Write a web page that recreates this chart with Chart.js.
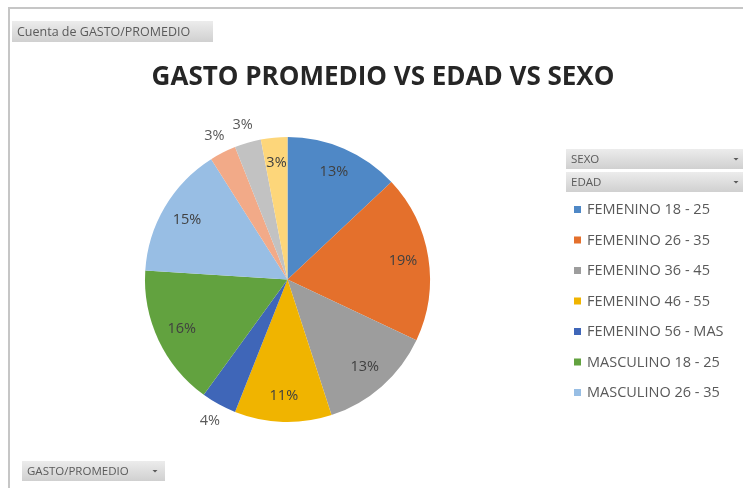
<!DOCTYPE html>
<html lang="es">
<head>
<meta charset="UTF-8">
<title>Gasto promedio vs edad vs sexo</title>
<script src="https://cdn.jsdelivr.net/npm/chart.js"></script>
<style>
    body { margin: 0; background: #fff; }
    #wrap { position: relative; width: 743px; height: 488px; }
</style>
</head>
<body>
<div id="wrap">
    <canvas id="gastoChart" width="743" height="488"></canvas>
</div>
<script>
// porcentaje del gasto promedio por sexo y rango de edad
const categorias = [
    'FEMENINO 18 - 25', 'FEMENINO 26 - 35', 'FEMENINO 36 - 45', 'FEMENINO 46 - 55',
    'FEMENINO 56 - MAS', 'MASCULINO 18 - 25', 'MASCULINO 26 - 35',
    'MASCULINO 36 - 45', 'MASCULINO 46 - 55', 'MASCULINO 56 - MAS'
];
const porcentajes = [13, 19, 13, 11, 4, 16, 15, 3, 3, 3];
const colores = [
    '#4f88c6', '#e4702c', '#9d9d9d', '#f0b400', '#3f66b8', '#62a23f',
    '#98bee4', '#f2aa88', '#c2c2c2', '#fdd67a'
];
// etiquetas que van fuera del sector
const etiquetasFuera = [4, 7, 8];
// la leyenda solo alcanza a mostrar las primeras entradas
const entradasLeyenda = 7;

const FONT = '"Open Sans", "Liberation Sans", sans-serif';

function boton(ctx, x, y, w, h, texto, flecha, size) {
    const g = ctx.createLinearGradient(0, y, 0, y + h);
    g.addColorStop(0, '#ececec');
    g.addColorStop(1, '#d0d0d0');
    ctx.fillStyle = g;
    ctx.fillRect(x, y, w, h);
    ctx.fillStyle = '#5a5a5a';
    ctx.font = size + 'px ' + FONT;
    ctx.textAlign = 'left';
    ctx.textBaseline = 'middle';
    ctx.fillText(texto, x + 5, y + h / 2 + 0.5);
    if (flecha) {
        ctx.beginPath();
        ctx.moveTo(flecha - 2.5, y + h / 2 - 1);
        ctx.lineTo(flecha + 2.5, y + h / 2 - 1);
        ctx.lineTo(flecha, y + h / 2 + 1.5);
        ctx.closePath();
        ctx.fill();
    }
}

const decorado = {
    id: 'decorado',
    beforeDraw(chart) {
        const ctx = chart.ctx;
        ctx.save();
        // marco del área del gráfico
        ctx.strokeStyle = '#c6c6c6';
        ctx.lineWidth = 2;
        ctx.beginPath();
        ctx.moveTo(743, 8);
        ctx.lineTo(9, 8);
        ctx.lineTo(9, 488);
        ctx.stroke();

        boton(ctx, 12, 21, 201, 21, 'Cuenta de GASTO/PROMEDIO', null, 12.5);
        boton(ctx, 22, 461, 143, 20, 'GASTO/PROMEDIO', 155, 11.5);
        boton(ctx, 566, 149, 177, 20, 'SEXO', 736, 11.5);
        boton(ctx, 566, 172, 177, 20, 'EDAD', 736, 11.5);

        // título
        ctx.fillStyle = '#262626';
        ctx.font = 'bold 26px ' + FONT;
        ctx.textAlign = 'center';
        ctx.textBaseline = 'middle';
        ctx.fillText('GASTO PROMEDIO VS EDAD VS SEXO', 383, 78, 468);

        // leyenda
        ctx.font = '14.5px ' + FONT;
        ctx.textAlign = 'left';
        for (let i = 0; i < entradasLeyenda; i++) {
            const y = 210 + i * 30.5;
            ctx.fillStyle = colores[i];
            ctx.fillRect(574, y - 4, 7, 7);
            ctx.fillStyle = '#595959';
            ctx.fillText(chart.data.labels[i], 587, y);
        }
        ctx.restore();
    },
    afterDatasetsDraw(chart) {
        const ctx = chart.ctx;
        const meta = chart.getDatasetMeta(0);
        const datos = chart.data.datasets[0].data;
        const total = datos.reduce((a, b) => a + b, 0);
        ctx.save();
        ctx.font = '14.5px ' + FONT;
        ctx.textAlign = 'center';
        ctx.textBaseline = 'middle';
        meta.data.forEach((arc, i) => {
            const p = arc.getProps(['x', 'y', 'startAngle', 'endAngle', 'outerRadius'], true);
            const mid = (p.startAngle + p.endAngle) / 2;
            const fuera = etiquetasFuera.includes(i);
            const r = p.outerRadius * (fuera ? 1.13 : 0.82);
            ctx.fillStyle = fuera ? '#595959' : '#404040';
            ctx.fillText(Math.round(datos[i] / total * 100) + '%',
                p.x + Math.cos(mid) * r, p.y + Math.sin(mid) * r);
        });
        ctx.restore();
    }
};

new Chart(document.getElementById('gastoChart'), {
    type: 'pie',
    data: {
        labels: categorias,
        datasets: [{
            data: porcentajes,
            backgroundColor: colores,
            borderWidth: 0
        }]
    },
    options: {
        responsive: false,
        animation: false,
        devicePixelRatio: 1,
        layout: { padding: { left: 145, right: 313, top: 137, bottom: 66 } },
        plugins: {
            legend: { display: false },
            tooltip: { enabled: false }
        }
    },
    plugins: [decorado]
});
</script>
</body>
</html>
